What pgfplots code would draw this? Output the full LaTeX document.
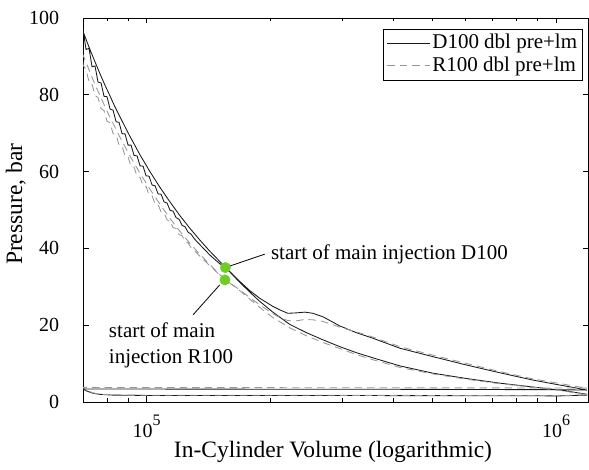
\documentclass[border=0pt]{standalone}
\usepackage{fontspec}
\setmainfont{Liberation Serif}
\usepackage{pgfplots}
\pgfplotsset{compat=1.18}
\definecolor{dotgreen}{RGB}{112,205,40}
\definecolor{rgray}{RGB}{150,150,150}
\definecolor{dblack}{RGB}{25,25,25}
\newcommand{\tenpow}[1]{10\raisebox{0.62em}{\fontsize{16}{16}\selectfont #1}}
\begin{document}
\fontsize{20}{24}\selectfont
\begin{tikzpicture}
\useasboundingbox (0,0) rectangle (589pt,470pt);
\begin{axis}[
  at={(83pt,68pt)}, anchor=south west,
  width=505pt, height=384pt, scale only axis,
  xmode=log, xmin=6.99e4, xmax=1.197e6, ymin=0, ymax=100,
  ytick={0,20,40,60,80,100},
  xtick={1e5,1e6}, xticklabels={\tenpow{5},\tenpow{6}},
  minor xtick={7e4,8e4,9e4,2e5,3e5,4e5,5e5,6e5,7e5,8e5,9e5},
  /pgf/number format/assume math mode=true,
  tick label style={font=\fontsize{20}{24}\selectfont},
  tick align=inside,
  major tick length=5.5pt, minor tick length=3.5pt,
  axis line style={line width=0.8pt},
  every tick/.style={black, line width=0.7pt},
  yticklabel style={xshift=-17pt},
  xticklabel style={yshift=-6pt},
  xlabel={In-Cylinder Volume (logarithmic)},
  ylabel={Pressure, bar},
  xlabel style={at={(axis description cs:0.495,-0.13)}, anchor=center, font=\fontsize{23.5}{26}\selectfont},
  ylabel style={at={(axis description cs:-0.133,0.515)}, anchor=center, font=\fontsize{23.5}{26}\selectfont},
  legend style={at={(axis description cs:0.99,0.9725)}, anchor=north east, draw=black, line width=0.6pt,
     font=\fontsize{21}{24}\selectfont, inner sep=3.5pt, row sep=1pt,
     cells={anchor=west, inner sep=1pt, text height=14.5pt, text depth=4.5pt}},
  legend cell align=left,
  legend image code/.code={\draw[#1] plot coordinates {(0pt,0pt) (21pt,0pt) (42.5pt,0pt)};},
]
% D100: compression, expansion, exhaust, intake
\addplot[dblack, line width=0.85pt] coordinates {
(1.1910e6,2.0) (1.1130e6,2.5) (1.0228e6,3.1) (8.7863e5,3.9) (7.2972e5,4.9) (6.0582e5,6.1)
(5.0036e5,7.5) (4.1557e5,9.4) (3.5700e5,11.5) (3.2619e5,12.8) (2.9643e5,14.4) (2.6940e5,16.2)
(2.4617e5,18.0) (2.2369e5,20.2) (2.0331e5,23.4) (1.8895e5,26.2) (1.7860e5,28.6) (1.6880e5,31.2)
(1.6136e5,33.3) (1.5600e5,35.1) (1.5081e5,36.6) (1.4256e5,39.3) (1.3475e5,42.2) (1.2737e5,45.3)
(1.2040e5,48.6) (1.1381e5,52.2) (1.0759e5,56.0) (1.0170e5,60.1) (9.614e4,64.5) (9.088e4,69.3)
(8.590e4,74.4) (8.353e4,77.0) (8.120e4,79.9) (7.895e4,82.7) (7.676e4,85.7) (7.463e4,88.8)
(7.256e4,92.0) (6.99e4,96.5)
(69900,97.0) (71090,91.8) (72300,92.1) (73530,87.3) (74780,87.5) (76060,83.3) (77350,83.1)
(78670,79.6) (80010,79.5) (81370,76.3) (82760,76.0) (84170,73.0) (85600,72.8) (87060,69.9)
(88540,69.8) (90050,66.9) (91580,66.9) (93140,64.2) (94730,64.1) (96340,61.5) (97980,61.4)
(99650,58.9) (101350,58.8) (103070,56.5) (104830,56.3) (106610,54.2) (108430,54.1) (110280,52.1)
(112150,51.8) (114060,49.9) (116010,49.7) (117980,48.0) (119990,47.6) (122040,46.0) (124110,45.6)
(126230,44.2) (128380,43.7) (130560,42.6) (132790,41.7) (135050,40.9)
(1.4256e5,38.3) (1.5081e5,36.0) (1.5600e5,35.0) (1.6136e5,33.5) (1.6880e5,31.4) (1.7860e5,29.0)
(1.8895e5,27.0) (2.0331e5,24.9) (2.1144e5,24.0) (2.2118e5,23.1) (2.3133e5,23.2) (2.4342e5,23.4)
(2.5457e5,23.1) (2.6940e5,22.2) (2.9643e5,19.8) (3.2619e5,18.0) (3.5700e5,16.6) (4.1557e5,14.0)
(5.0036e5,11.8) (6.0582e5,9.6) (7.2972e5,7.6) (8.7863e5,5.7) (1.0228e6,4.4) (1.1130e6,3.7)
(1.1910e6,3.1)
(1.0228e6,3.2) (4.1557e5,3.3) (1.3475e5,3.35) (6.99e4,3.4)
(7.123e4,2.9) (7.379e4,2.3) (7.676e4,2.0) (8.250e4,1.8) (1.0e5,1.7) (2.3666e5,1.7)
(5.505e5,1.65) (1.0228e6,1.6) (1.1910e6,1.8)
};
\addlegendentry{D100 dbl pre+lm}
% R100
\addplot[rgray, line width=0.85pt, dash pattern=on 7.5pt off 5pt] coordinates {
(1.1910e6,1.9) (1.1130e6,2.4) (1.0228e6,3.0) (8.7863e5,3.85) (7.2972e5,4.75) (6.0582e5,5.9)
(5.0036e5,7.3) (4.1557e5,9.0) (3.5700e5,11.0) (3.2619e5,12.3) (2.9643e5,13.9) (2.6940e5,15.5)
(2.4617e5,17.2) (2.2369e5,19.3) (2.0331e5,22.0) (1.8895e5,24.6) (1.7860e5,26.8) (1.6880e5,29.0)
(1.6136e5,30.6) (1.5600e5,31.8) (1.5081e5,33.2) (1.4256e5,35.8) (1.3475e5,38.5) (1.2737e5,41.4)
(1.2040e5,44.5) (1.1381e5,47.9) (1.0759e5,51.6) (1.0170e5,55.5) (9.614e4,59.7) (9.088e4,64.2)
(8.590e4,69.1) (8.353e4,71.7) (8.120e4,74.3) (7.895e4,77.1) (7.676e4,80.0) (7.463e4,82.9)
(7.256e4,86.1) (6.99e4,90.4)
(69900,87.8) (71090,86.5) (72300,83.4) (73530,82.8) (74780,79.8) (76060,79.3) (77350,76.4)
(78670,75.9) (80010,73.1) (81370,72.7) (82760,69.9) (84170,69.6) (85600,66.9) (87060,66.7)
(88540,64.0) (90050,63.9) (91580,61.3) (93140,61.2) (94730,58.7) (96340,58.5) (97980,56.3)
(99650,56.1) (101350,53.9) (103070,53.7) (104830,51.6) (106610,51.4) (108430,49.5) (110280,49.2)
(112150,47.4) (114060,47.2) (116010,45.4) (117980,45.2) (119990,43.6) (122040,43.3) (124110,41.8)
(126230,41.4) (128380,40.2) (130560,39.5) (132790,38.7) (135050,37.9)
(1.4256e5,35.5) (1.5081e5,33.1) (1.5600e5,31.8) (1.6136e5,30.7) (1.6880e5,29.2) (1.7860e5,27.2)
(1.8895e5,25.3) (2.0331e5,23.0) (2.1144e5,22.0) (2.2118e5,21.2) (2.3133e5,21.1) (2.4342e5,21.5)
(2.5457e5,21.4) (2.6940e5,21.0) (2.9643e5,19.5) (3.2619e5,18.2) (3.5700e5,16.9) (4.1557e5,14.4)
(5.0036e5,12.2) (6.0582e5,10.0) (7.2972e5,7.9) (8.7863e5,6.0) (1.0228e6,4.8) (1.1130e6,4.1)
(1.1910e6,3.6)
(1.0228e6,3.65) (4.1557e5,3.7) (1.3475e5,3.75) (6.99e4,3.8)
(7.123e4,3.1) (7.379e4,2.4) (7.676e4,2.05) (8.250e4,1.85) (1.0e5,1.75) (2.3666e5,1.75)
(5.505e5,1.7) (1.0228e6,1.65) (1.1910e6,1.9)
};
\addlegendentry{R100 dbl pre+lm}
% annotation leaders
\draw[black, line width=0.8pt] (axis cs:1.596e5,35.4) -- (axis cs:1.943e5,38.5);
\draw[black, line width=0.8pt] (axis cs:1.508e5,30.5) -- (axis cs:1.298e5,22.7);
% start of main injection markers
\addplot[only marks, mark=*, mark size=5.2pt, color=dotgreen, mark options={draw=dotgreen, fill=dotgreen}, forget plot]
  coordinates {(1.557e5,35.0) (1.553e5,31.8)};
\node[anchor=west, inner sep=0pt, font=\fontsize{21}{24}\selectfont] at (axis cs:2.01e5,38.4) {start of main injection D100};
\node[anchor=north west, inner sep=0pt, align=left, font=\fontsize{21}{26}\selectfont]
  at (axis cs:8.08e4,20.6) {start of main\\injection R100};
\end{axis}
\end{tikzpicture}
\end{document}
